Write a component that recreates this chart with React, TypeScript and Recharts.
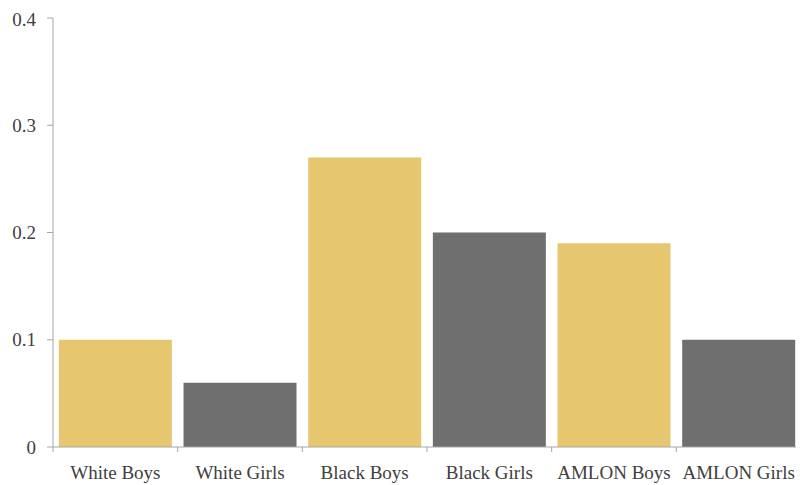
import React from 'react';
import { BarChart, Bar, XAxis, YAxis, Cell } from 'recharts';

const categories = ['White Boys', 'White Girls', 'Black Boys', 'Black Girls', 'AMLON Boys', 'AMLON Girls'];
const values = [0.1, 0.06, 0.27, 0.2, 0.19, 0.1];
const colors = ['#E6C76F', '#6F6F6F', '#E6C76F', '#6F6F6F', '#E6C76F', '#6F6F6F'];
const yTicks = [0, 0.1, 0.2, 0.3, 0.4];

const data = categories.map((c, i) => ({ name: c, value: values[i] }));

const W = 796;
const H = 477;
const MARGIN = { top: 10, right: 3, left: 0, bottom: 0 };
const YW = 45;
const BAND = (W - MARGIN.left - MARGIN.right - YW) / categories.length;
const FONT = '"Liberation Serif", "Times New Roman", serif';
const AXIS = '#A6A6A6';
const TEXT = '#404040';

const XTick = (props: any) => {
  const { x, y, payload, index } = props;
  const half = BAND / 2;
  return (
    <g>
      <line x1={x - half} x2={x - half} y1={y} y2={y + 5} stroke={AXIS} strokeWidth={1} />
      {index === categories.length - 1 && (
        <line x1={x + half} x2={x + half} y1={y} y2={y + 5} stroke={AXIS} strokeWidth={1} />
      )}
      <text x={x} y={y + 32} textAnchor="middle" fill={TEXT} fontFamily={FONT} fontSize={19}>
        {payload.value}
      </text>
    </g>
  );
};

export default function App() {
  return (
    <BarChart width={W} height={H} data={data} margin={MARGIN} barCategoryGap="4.7%">
      <XAxis
        dataKey="name"
        height={38}
        tickLine={false}
        tickSize={0}
        tickMargin={0}
        axisLine={{ stroke: AXIS }}
        tick={<XTick />}
        interval={0}
      />
      <YAxis
        width={YW}
        domain={[0, 0.4]}
        ticks={yTicks}
        tickSize={6}
        tickMargin={11}
        axisLine={{ stroke: AXIS }}
        tickLine={{ stroke: AXIS }}
        tick={{ fill: TEXT, fontFamily: FONT, fontSize: 19 }}
        tickFormatter={(v: number) => String(v)}
      />
      <Bar dataKey="value" isAnimationActive={false}>
        {data.map((d, i) => (
          <Cell key={d.name} fill={colors[i]} />
        ))}
      </Bar>
    </BarChart>
  );
}
